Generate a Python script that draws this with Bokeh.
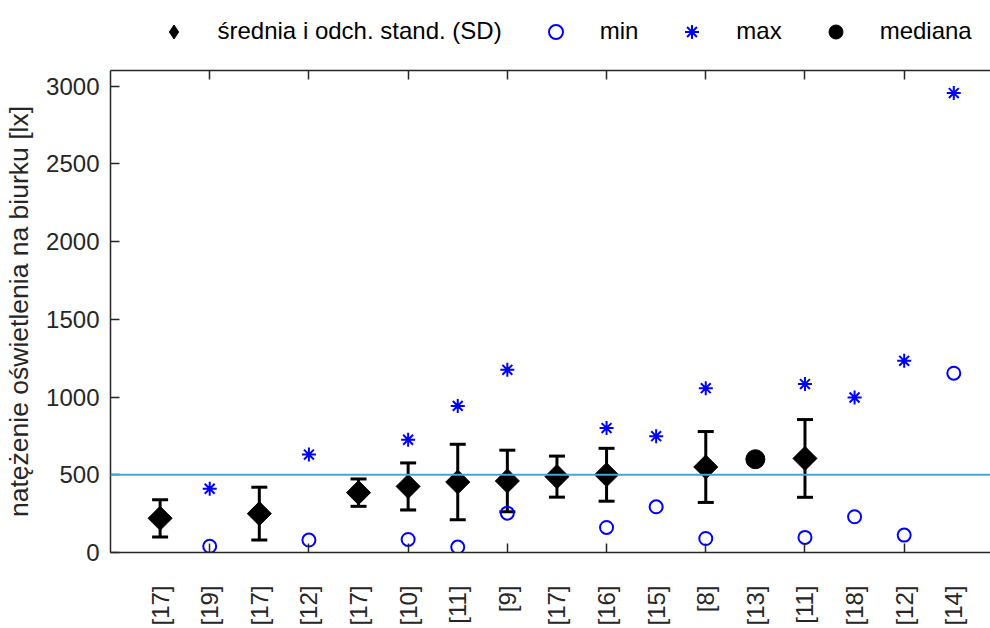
import math
from bokeh.plotting import figure
from bokeh.layouts import column
from bokeh.models import (FixedTicker, LinearAxis, Range1d, Legend, LegendItem,
                          Span, ColumnDataSource, Whisker, TeeHead)
from bokeh.embed import file_html
from bokeh.resources import INLINE

# ---- data ----
labels = ["[17]", "[19]", "[17]", "[12]", "[17]", "[10]", "[11]", "[9]", "[17]",
          "[16]", "[15]", "[8]", "[13]", "[11]", "[18]", "[12]", "[14]"]
positions = list(range(1, 18))

mean_x = [1, 3, 5, 6, 7, 8, 9, 10, 12, 14]
mean_vals = [220, 250, 385, 425, 453, 460, 488, 500, 550, 605]
sd_vals = [120, 170, 88, 151, 243, 198, 132, 170, 228, 250]

min_x = [2, 4, 6, 7, 8, 10, 11, 12, 14, 15, 16, 17]
min_vals = [40, 80, 84, 35, 253, 161, 294, 90, 97, 230, 112, 1153]

max_x = [2, 4, 6, 7, 8, 10, 11, 12, 14, 15, 16, 17]
max_vals = [410, 630, 725, 943, 1175, 800, 748, 1057, 1083, 997, 1233, 2955]

median_x = [13]
median_vals = [600]

norm_level = 500
y_ticks = [0, 500, 1000, 1500, 2000, 2500, 3000]

legend_labels = ["średnia i odch. stand. (SD)", "min", "max", "mediana"]

# ---- style ----
FONT = "Liberation Sans"
FS = "24px"
AX = "#262626"
BLUE = "#0000FF"

# ---- main plot ----
p = figure(width=990, height=568, output_backend="svg", toolbar_location=None,
           x_range=Range1d(0, 17.74), y_range=Range1d(0, 3100),
           min_border_left=110, min_border_right=0, min_border_top=10,
           min_border_bottom=75)
p.outline_line_color = None
p.xgrid.visible = False
p.ygrid.visible = False
p.background_fill_color = "white"
p.border_fill_color = "white"

xa = p.xaxis[0]
xa.ticker = FixedTicker(ticks=positions, minor_ticks=list(range(2, 17, 2)))
xa.major_label_overrides = {i: lab for i, lab in zip(positions, labels)}
xa.major_tick_in = 0
xa.major_tick_out = 0
xa.minor_tick_in = 9
xa.minor_tick_out = 0
xa.minor_tick_line_width = 1.5
xa.minor_tick_line_color = AX
xa.major_label_orientation = math.pi / 2
xa.major_label_standoff = 33
xa.major_label_text_font = FONT
xa.major_label_text_font_size = FS
xa.major_label_text_color = AX
xa.axis_line_color = AX
xa.axis_line_width = 1.5

ya = p.yaxis[0]
ya.ticker = FixedTicker(ticks=y_ticks)
ya.major_tick_in = 9
ya.major_tick_out = 0
ya.major_tick_line_width = 1.5
ya.major_tick_line_color = AX
ya.minor_tick_line_color = None
ya.major_label_standoff = 11
ya.major_label_text_font = FONT
ya.major_label_text_font_size = FS
ya.major_label_text_color = AX
ya.axis_line_color = AX
ya.axis_line_width = 1.5
ya.axis_label = "natężenie oświetlenia na biurku [lx]"
ya.axis_label_text_font = FONT
ya.axis_label_text_font_size = "26.5px"
ya.axis_label_text_font_style = "normal"
ya.axis_label_text_color = AX
ya.axis_label_standoff = 9

top = LinearAxis(ticker=FixedTicker(ticks=[], minor_ticks=list(range(2, 17, 2))),
                 major_label_text_font_size="0px", major_tick_in=0, major_tick_out=0,
                 minor_tick_in=9, minor_tick_out=0, minor_tick_line_width=1.5,
                 minor_tick_line_color=AX, axis_line_color=AX, axis_line_width=1.5,
                 major_label_standoff=0)
p.add_layout(top, "above")

src = ColumnDataSource(dict(x=mean_x, mean=mean_vals,
                            upper=[m + s for m, s in zip(mean_vals, sd_vals)],
                            lower=[m - s for m, s in zip(mean_vals, sd_vals)]))
wh = Whisker(source=src, base="x", upper="upper", lower="lower", dimension="height",
             line_color="black", line_width=3, level="underlay",
             upper_head=TeeHead(size=16, line_width=3, line_color="black"),
             lower_head=TeeHead(size=16, line_width=3, line_color="black"))
p.add_layout(wh)

p.scatter("x", "mean", source=src, marker="square", angle=math.pi / 4,
          size=17, fill_color="black", line_color="black")
p.scatter(min_x, min_vals, marker="circle", size=13, fill_color=None,
          line_color=BLUE, line_width=2)
p.scatter(max_x, max_vals, marker="asterisk", size=14,
          line_color=BLUE, line_width=2)
p.scatter(median_x, median_vals, marker="circle", size=19,
          fill_color="black", line_color="black")

p.add_layout(Span(location=norm_level, dimension="width", line_color="#4DA0D6",
                  line_width=2))

# ---- legend strip (its frame is aligned with the main frame by the column) ----
lf = figure(width=990, height=60, output_backend="svg", toolbar_location=None,
            x_range=Range1d(0, 1), y_range=Range1d(0, 1),
            x_axis_location=None, y_axis_location=None, min_border=0)
lf.outline_line_color = None
lf.xgrid.visible = False
lf.ygrid.visible = False
off = dict(x=[-10], y=[-10])  # keys of the legend, outside the strip's view
lg_mean = lf.scatter(marker="diamond", fill_color="black", line_color="black", **off)
lg_min = lf.scatter(marker="circle", fill_color=None, line_color=BLUE, line_width=2, **off)
lg_max = lf.scatter(marker="asterisk", line_color=BLUE, line_width=2, **off)
lg_med = lf.scatter(marker="circle", fill_color="black", line_color="black", **off)

legend = Legend(items=[LegendItem(label=t, renderers=[r]) for t, r in
                       zip(legend_labels, [lg_mean, lg_min, lg_max, lg_med])],
                orientation="horizontal", location=(45.5, 11.5),
                glyph_width=35, glyph_height=35, label_standoff=27, spacing=36,
                padding=4, margin=0, border_line_color=None, background_fill_alpha=0,
                label_text_font=FONT, label_text_font_size=FS, label_text_color="black")
lf.add_layout(legend, "center")

layout = column(lf, p, spacing=0)
open("out.html", "w").write(file_html(layout, INLINE))
